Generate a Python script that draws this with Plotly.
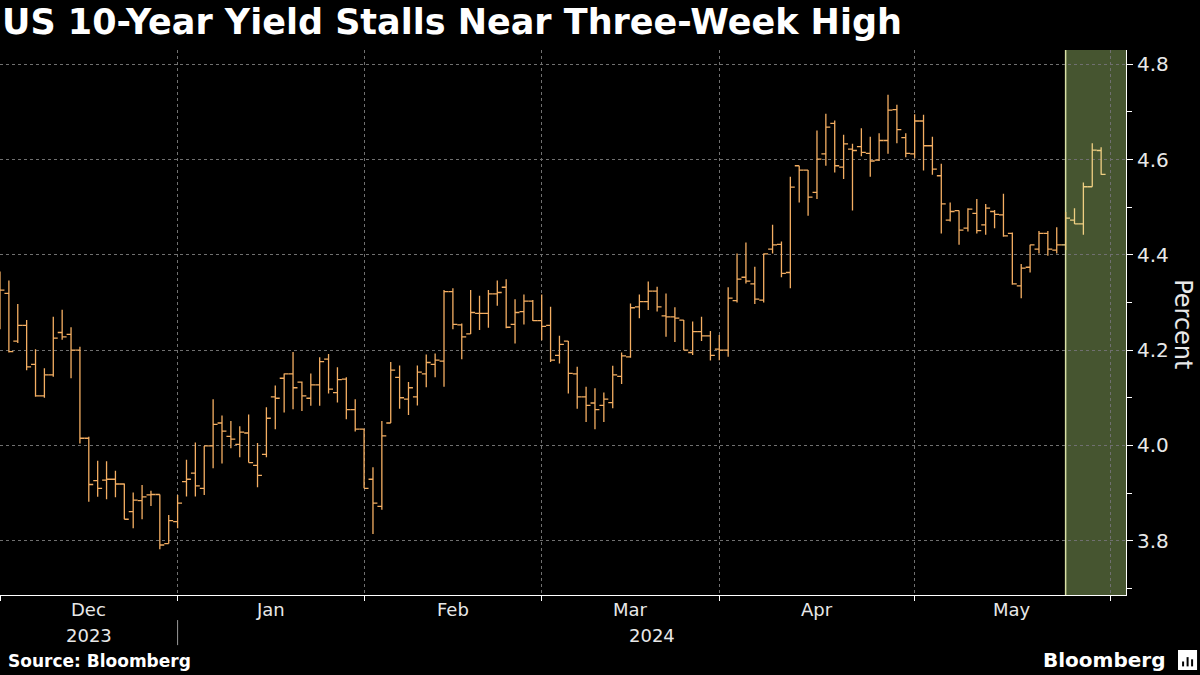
import plotly.graph_objects as go

# ---------------- data ----------------
dates = [
    "2023-11-30",
    "2023-12-01", "2023-12-04", "2023-12-05", "2023-12-06", "2023-12-07", "2023-12-08",
    "2023-12-11", "2023-12-12", "2023-12-13", "2023-12-14", "2023-12-15",
    "2023-12-18", "2023-12-19", "2023-12-20", "2023-12-21", "2023-12-22",
    "2023-12-26", "2023-12-27", "2023-12-28", "2023-12-29",
    "2024-01-02", "2024-01-03", "2024-01-04", "2024-01-05",
    "2024-01-08", "2024-01-09", "2024-01-10", "2024-01-11", "2024-01-12",
    "2024-01-16", "2024-01-17", "2024-01-18", "2024-01-19",
    "2024-01-22", "2024-01-23", "2024-01-24", "2024-01-25", "2024-01-26",
    "2024-01-29", "2024-01-30", "2024-01-31",
    "2024-02-01", "2024-02-02",
    "2024-02-05", "2024-02-06", "2024-02-07", "2024-02-08", "2024-02-09",
    "2024-02-12", "2024-02-13", "2024-02-14", "2024-02-15", "2024-02-16",
    "2024-02-20", "2024-02-21", "2024-02-22", "2024-02-23",
    "2024-02-26", "2024-02-27", "2024-02-28", "2024-02-29",
    "2024-03-01",
    "2024-03-04", "2024-03-05", "2024-03-06", "2024-03-07", "2024-03-08",
    "2024-03-11", "2024-03-12", "2024-03-13", "2024-03-14", "2024-03-15",
    "2024-03-18", "2024-03-19", "2024-03-20", "2024-03-21", "2024-03-22",
    "2024-03-25", "2024-03-26", "2024-03-27", "2024-03-28",
    "2024-04-01", "2024-04-02", "2024-04-03", "2024-04-04", "2024-04-05",
    "2024-04-08", "2024-04-09", "2024-04-10", "2024-04-11", "2024-04-12",
    "2024-04-15", "2024-04-16", "2024-04-17", "2024-04-18", "2024-04-19",
    "2024-04-22", "2024-04-23", "2024-04-24", "2024-04-25", "2024-04-26",
    "2024-04-29", "2024-04-30",
    "2024-05-01", "2024-05-02", "2024-05-03",
    "2024-05-06", "2024-05-07", "2024-05-08", "2024-05-09", "2024-05-10",
    "2024-05-13", "2024-05-14", "2024-05-15", "2024-05-16", "2024-05-17",
    "2024-05-20", "2024-05-21", "2024-05-22", "2024-05-23", "2024-05-24",
    "2024-05-28", "2024-05-29", "2024-05-30",
]

open_ = [
    4.270,
    4.319, 4.219, 4.252, 4.170, 4.104, 4.148,
    4.237, 4.233, 4.200, 4.015, 3.926,
    3.927, 3.929, 3.919, 3.861, 3.884,
    3.896, 3.897, 3.794, 3.840,
    3.924, 3.942, 3.910, 3.999,
    4.047, 4.019, 4.002, 4.026, 3.958,
    3.981, 4.102, 4.141, 4.150,
    4.133, 4.099, 4.127, 4.181, 4.111,
    4.139, 4.075, 4.034,
    3.929, 3.872,
    4.047, 4.143, 4.097, 4.102, 4.150,
    4.170, 4.177, 4.323, 4.253, 4.234,
    4.277, 4.277, 4.318, 4.332,
    4.254, 4.281, 4.303, 4.262,
    4.252,
    4.189, 4.219, 4.150, 4.102, 4.089,
    4.084, 4.090, 4.145, 4.186, 4.291,
    4.302, 4.324, 4.272, 4.270, 4.263,
    4.195, 4.239, 4.230, 4.202,
    4.200, 4.304, 4.353, 4.339, 4.305,
    4.412, 4.422, 4.363, 4.587, 4.578,
    4.531, 4.612, 4.676, 4.584, 4.622,
    4.627, 4.613, 4.599, 4.640, 4.705,
    4.646, 4.612,
    4.681, 4.629, 4.566,
    4.473, 4.493, 4.456, 4.487, 4.463,
    4.491, 4.484, 4.445, 4.335, 4.374,
    4.412, 4.445, 4.410, 4.421, 4.473,
    4.465, 4.543, 4.619,
]

high = [
    4.365,
    4.346, 4.297, 4.263, 4.202, 4.162, 4.270,
    4.285, 4.248, 4.207, 4.018, 3.968,
    3.967, 3.947, 3.920, 3.901, 3.917,
    3.905, 3.897, 3.854, 3.896,
    3.970, 4.006, 3.999, 4.097,
    4.063, 4.051, 4.040, 4.065, 4.005,
    4.080, 4.126, 4.151, 4.196,
    4.134, 4.151, 4.185, 4.192, 4.164,
    4.143, 4.097, 4.035,
    3.954, 4.051,
    4.175, 4.168, 4.133, 4.168, 4.191,
    4.193, 4.326, 4.330, 4.256, 4.326,
    4.314, 4.326, 4.346, 4.349,
    4.307, 4.317, 4.305, 4.317,
    4.291,
    4.230, 4.219, 4.165, 4.123, 4.120,
    4.111, 4.167, 4.195, 4.298, 4.317,
    4.344, 4.333, 4.319, 4.290, 4.263,
    4.260, 4.270, 4.240, 4.232,
    4.332, 4.403, 4.426, 4.375, 4.403,
    4.463, 4.428, 4.564, 4.587, 4.578,
    4.661, 4.696, 4.682, 4.652, 4.633,
    4.666, 4.648, 4.655, 4.736, 4.715,
    4.655, 4.695,
    4.694, 4.648, 4.591,
    4.510, 4.493, 4.498, 4.517, 4.507,
    4.494, 4.528, 4.447, 4.381, 4.421,
    4.450, 4.450, 4.458, 4.490, 4.498,
    4.552, 4.634, 4.626,
]

low = [
    4.244,
    4.195, 4.215, 4.158, 4.102, 4.100, 4.144,
    4.222, 4.141, 4.004, 3.882, 3.892,
    3.887, 3.891, 3.845, 3.826, 3.845,
    3.873, 3.782, 3.794, 3.826,
    3.893, 3.893, 3.896, 3.952,
    3.962, 3.994, 3.975, 3.964, 3.912,
    3.975, 4.034, 4.069, 4.076,
    4.072, 4.083, 4.083, 4.109, 4.090,
    4.055, 4.029, 3.910,
    3.814, 3.865,
    4.047, 4.077, 4.064, 4.084, 4.122,
    4.143, 4.123, 4.244, 4.181, 4.234,
    4.242, 4.247, 4.293, 4.246,
    4.214, 4.254, 4.261, 4.221,
    4.175,
    4.172, 4.109, 4.077, 4.049, 4.034,
    4.049, 4.078, 4.129, 4.184, 4.267,
    4.284, 4.281, 4.228, 4.217, 4.200,
    4.190, 4.219, 4.178, 4.179,
    4.186, 4.300, 4.340, 4.297, 4.300,
    4.403, 4.353, 4.330, 4.510, 4.482,
    4.517, 4.587, 4.573, 4.559, 4.493,
    4.607, 4.564, 4.597, 4.612, 4.634,
    4.605, 4.603,
    4.577, 4.568, 4.445,
    4.470, 4.421, 4.449, 4.445, 4.442,
    4.456, 4.438, 4.337, 4.309, 4.363,
    4.403, 4.398, 4.403, 4.410, 4.465,
    4.442, 4.543, 4.568,
]

close = [
    4.326,
    4.197, 4.252, 4.165, 4.104, 4.148, 4.225,
    4.228, 4.200, 4.015, 3.918, 3.910,
    3.929, 3.919, 3.845, 3.885, 3.892,
    3.897, 3.791, 3.842, 3.879,
    3.929, 3.915, 3.999, 4.044,
    4.030, 4.013, 4.028, 3.964, 3.937,
    4.057, 4.099, 4.150, 4.121,
    4.104, 4.127, 4.176, 4.118, 4.138,
    4.075, 4.034, 3.910,
    3.879, 4.020,
    4.158, 4.100, 4.121, 4.154, 4.174,
    4.179, 4.323, 4.254, 4.228, 4.279,
    4.277, 4.318, 4.321, 4.248,
    4.279, 4.303, 4.262, 4.250,
    4.179,
    4.212, 4.151, 4.102, 4.084, 4.075,
    4.097, 4.148, 4.188, 4.289, 4.302,
    4.324, 4.291, 4.270, 4.267, 4.200,
    4.239, 4.230, 4.189, 4.200,
    4.309, 4.349, 4.345, 4.307, 4.402,
    4.421, 4.361, 4.542, 4.578, 4.521,
    4.601, 4.668, 4.587, 4.633, 4.619,
    4.615, 4.597, 4.640, 4.704, 4.663,
    4.613, 4.681,
    4.629, 4.580, 4.507,
    4.491, 4.452, 4.496, 4.451, 4.498,
    4.485, 4.440, 4.339, 4.372, 4.421,
    4.445, 4.412, 4.421, 4.477, 4.465,
    4.543, 4.620, 4.569,
]

month_names = ["Dec", "Jan", "Feb", "Mar", "Apr", "May"]
year_labels = ["2023", "2024"]
highlight_from = "2024-05-23"

title_text = "US 10-Year Yield Stalls Near Three-Week High"
source_text = "Source: Bloomberg"
y_title = "Percent"

# ---------------- derived positions ----------------
n = len(dates)
xi = list(range(n))
hi = dates.index(highlight_from)

months = [d[:7] for d in dates]
firsts = [i for i in range(1, n) if months[i] != months[i - 1]]
bounds = [f - 1 for f in firsts] + [n]   # tick at last session of previous month
XMAX = n + 1.8
Y_RANGE = [3.686, 4.830]

BAR = "#f4ae62"
BAR_HI = "#efcf82"
WHITE = "#e8e8e8"
GRID = "#707070"
FONT = "DejaVu Sans"

fig = go.Figure()
fig.add_trace(go.Ohlc(
    x=xi[:hi], open=open_[:hi], high=high[:hi], low=low[:hi], close=close[:hi],
    increasing=dict(line=dict(color=BAR, width=1.3)),
    decreasing=dict(line=dict(color=BAR, width=1.3)),
    tickwidth=0.5, hoverinfo="skip", showlegend=False,
))
fig.add_trace(go.Ohlc(
    x=xi[hi:], open=open_[hi:], high=high[hi:], low=low[hi:], close=close[hi:],
    increasing=dict(line=dict(color=BAR_HI, width=1.3)),
    decreasing=dict(line=dict(color=BAR_HI, width=1.3)),
    tickwidth=0.5, hoverinfo="skip", showlegend=False,
))

# highlighted period
fig.add_shape(type="rect", xref="x", yref="paper", x0=hi, x1=XMAX, y0=0, y1=1,
              fillcolor="#465530", line=dict(width=0), layer="below")
fig.add_shape(type="line", xref="x", yref="paper", x0=hi, x1=hi, y0=0, y1=1,
              line=dict(color="#d9e0a6", width=1.5), layer="below")

# year separator below the axis
fig.add_shape(type="line", xref="x", yref="paper", x0=bounds[1], x1=bounds[1],
              y0=-0.046, y1=-0.092, line=dict(color="#9a9a9a", width=1))

annotations = []
for k, name in enumerate(month_names):
    annotations.append(dict(
        x=(bounds[k] + bounds[k + 1]) / 2, xref="x", y=-0.0275, yref="paper",
        text=name, showarrow=False, xanchor="center", yanchor="middle",
        font=dict(family=FONT, size=18, color=WHITE)))
annotations.append(dict(
    x=(bounds[0] + bounds[1]) / 2, xref="x", y=-0.0734, yref="paper",
    text=year_labels[0], showarrow=False, xanchor="center", yanchor="middle",
    font=dict(family=FONT, size=18, color=WHITE)))
annotations.append(dict(
    x=(bounds[1] + XMAX) / 2, xref="x", y=-0.0734, yref="paper",
    text=year_labels[1], showarrow=False, xanchor="center", yanchor="middle",
    font=dict(family=FONT, size=18, color=WHITE)))
annotations.append(dict(
    x=1.0506, xref="paper", y=0.497, yref="paper", text=y_title, textangle=90,
    showarrow=False, xanchor="center", yanchor="middle",
    font=dict(family=FONT, size=24, color=WHITE)))
annotations.append(dict(
    x=0.0, xref="paper", y=1.0514, yref="paper", text="<b>" + title_text + "</b>",
    showarrow=False, xanchor="left", yanchor="middle",
    font=dict(family=FONT, size=35, color="#ffffff")))
annotations.append(dict(
    x=0.005, xref="paper", y=-0.1211, yref="paper", text="<b>" + source_text + "</b>",
    showarrow=False, xanchor="left", yanchor="middle",
    font=dict(family=FONT, size=17, color="#ffffff")))
annotations.append(dict(
    x=1.0364, xref="paper", y=-0.1193, yref="paper", text="<b>Bloomberg</b>",
    showarrow=False, xanchor="right", yanchor="middle",
    font=dict(family=FONT, size=20, color="#ffffff")))

# small logo mark
fig.add_shape(type="rect", xref="paper", yref="paper", x0=1.0462, x1=1.0631,
              y0=-0.1376, y1=-0.1009, fillcolor="#ffffff", line=dict(width=0))
for bx, top in [(1.0507, -0.122), (1.0547, -0.114), (1.0587, -0.118)]:
    fig.add_shape(type="line", xref="paper", yref="paper", x0=bx, x1=bx,
                  y0=-0.131, y1=top, line=dict(color="#000000", width=2))

fig.update_layout(
    width=1200, height=675,
    margin=dict(l=0, r=74, t=50, b=80),
    paper_bgcolor="#000000", plot_bgcolor="#000000",
    annotations=annotations,
    showlegend=False,
    xaxis=dict(
        range=[0, XMAX], tickmode="array", tickvals=bounds,
        ticktext=[""] * len(bounds), ticks="outside", ticklen=5,
        tickcolor="#ffffff", showline=True, linecolor="#ffffff", linewidth=1,
        showgrid=True, gridcolor=GRID, gridwidth=1, griddash="3px,3px",
        zeroline=False, rangeslider=dict(visible=False), fixedrange=True,
    ),
    yaxis=dict(
        side="right", range=Y_RANGE, tickmode="linear", tick0=3.8, dtick=0.2,
        tickformat=".1f", ticks="outside", ticklen=6, tickcolor="#ffffff",
        showline=True, linecolor="#ffffff", linewidth=1,
        showgrid=True, gridcolor=GRID, gridwidth=1, griddash="3px,3px",
        zeroline=False, fixedrange=True,
        tickfont=dict(family=FONT, size=20, color=WHITE),
        minor=dict(dtick=0.1, tick0=3.7, ticks="outside", ticklen=5,
                   tickcolor="#ffffff", showgrid=False),
    ),
)

fig.write_html("out.html")
